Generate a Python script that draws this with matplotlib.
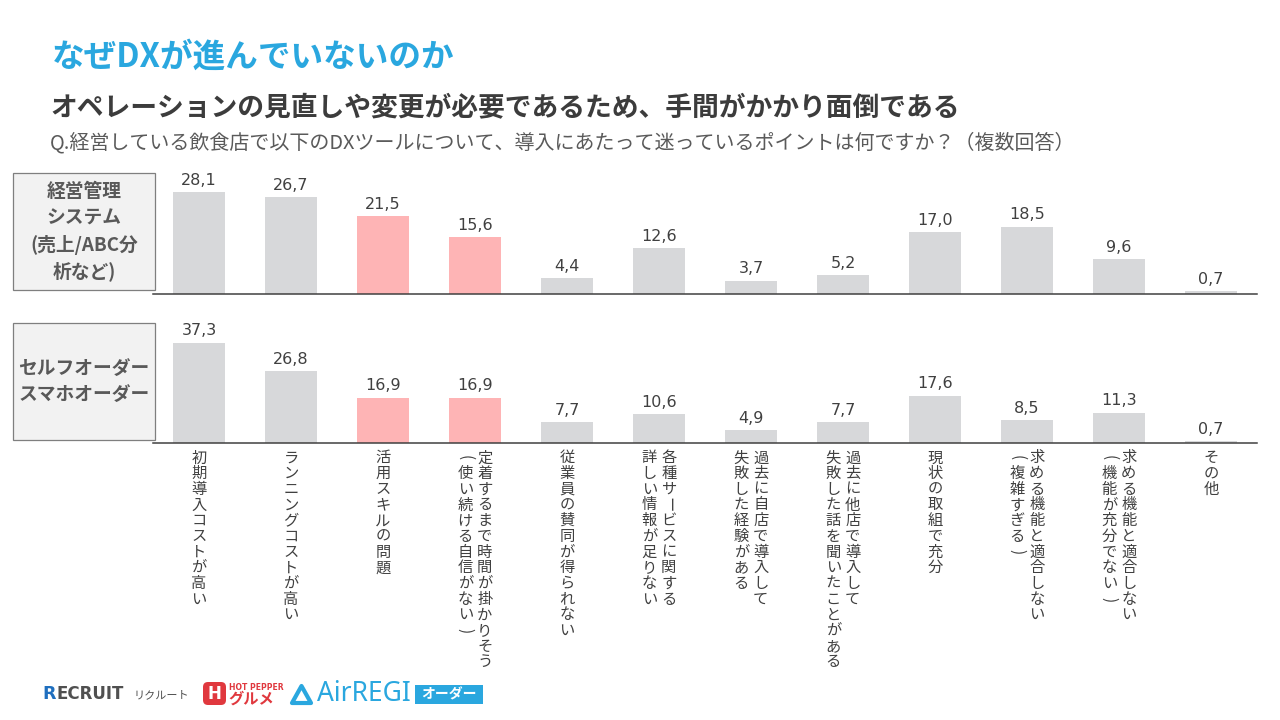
import matplotlib
matplotlib.use('Agg')
import matplotlib.pyplot as plt
import matplotlib.transforms as mtransforms
from matplotlib.patches import Rectangle, FancyBboxPatch, Polygon

plt.rcParams['font.family'] = ['Noto Sans CJK JP', 'DejaVu Sans']

# データ
title = 'なぜDXが進んでいないのか'
subtitle = 'オペレーションの見直しや変更が必要であるため、手間がかかり面倒である'
question = 'Q.経営している飲食店で以下のDXツールについて、導入にあたって迷っているポイントは何ですか？（複数回答）'

categories = [
    '初期導入コストが高い',
    'ランニングコストが高い',
    '活用スキルの問題',
    '定着するまで時間が掛かりそう\n(使い続ける自信がない)',
    '従業員の賛同が得られない',
    '各種サービスに関する\n詳しい情報が足りない',
    '過去に自店で導入して\n失敗した経験がある',
    '過去に他店で導入して\n失敗した話を聞いたことがある',
    '現状の取組で充分',
    '求める機能と適合しない\n(複雑すぎる)',
    '求める機能と適合しない\n(機能が充分でない)',
    'その他',
]
row_names = ['経営管理\nシステム\n(売上/ABC分\n析など)', 'セルフオーダー\nスマホオーダー']
vals_mgmt = [28.1, 26.7, 21.5, 15.6, 4.4, 12.6, 3.7, 5.2, 17.0, 18.5, 9.6, 0.7]
vals_order = [37.3, 26.8, 16.9, 16.9, 7.7, 10.6, 4.9, 7.7, 17.6, 8.5, 11.3, 0.7]
highlight = [2, 3]

GRAY = '#d7d8da'
PINK = '#feb4b5'
TXT = '#404040'

fig = plt.figure(figsize=(12.8, 7.2), dpi=100)
W, H = 1280, 720

# 全体を覆うピクセル座標の軸 (上から下へ y)
ov = fig.add_axes([0, 0, 1, 1])
ov.set_xlim(0, W)
ov.set_ylim(H, 0)
ov.axis('off')

ov.text(52, 57, title, fontsize=23.5, weight='bold', color='#2aa7df', va='center')
ov.text(50, 107, subtitle, fontsize=19.3, weight='bold', color='#3c3c3c', va='center')
ov.text(50, 143, question, fontsize=14.4, color='#5a5a5a', va='center')


def panel(top, bottom, vals, ppu):
    ax = fig.add_axes([153 / W, 1 - bottom / H, 1104 / W, (bottom - top) / H])
    x = list(range(len(vals)))
    cols = [PINK if i in highlight else GRAY for i in x]
    ax.bar(x, vals, width=0.555, color=cols)
    ax.set_xlim(-0.5, len(vals) - 0.5)
    ax.set_ylim(0, (bottom - top) / ppu)
    for s in ['top', 'left', 'right']:
        ax.spines[s].set_visible(False)
    ax.spines['bottom'].set_color('#404040')
    ax.spines['bottom'].set_linewidth(1.1)
    ax.set_xticks([])
    ax.set_yticks([])
    ax.patch.set_alpha(0)
    for i, v in enumerate(vals):
        ax.annotate(f'{v:.1f}'.replace('.', ','), (i, v), xytext=(0, 3),
                    textcoords='offset points', ha='center', va='bottom',
                    fontsize=11.5, color=TXT, family='DejaVu Sans')
    return ax


ax1 = panel(170, 294, vals_mgmt, 3.64)
ax2 = panel(320, 443, vals_order, 2.69)

# 行ラベルの箱
for name, (y0, y1) in zip(row_names, [(173, 290), (323, 440)]):
    ov.add_patch(Rectangle((13, y0), 142, y1 - y0, fc='#f2f2f2', ec='#7f7f7f', lw=0.9))
    lines = name.split('\n')
    cy = (y0 + y1) / 2
    for k, ln in enumerate(lines):
        ov.text(84, cy + (k - (len(lines) - 1) / 2) * 26.7, ln, ha='center', va='center',
                fontsize=13.5, weight='bold', color='#595959')

# 縦書きのカテゴリラベル
base = mtransforms.blended_transform_factory(ax2.transData, ov.transData)
rot_chars = 'ー()（）'
for i, lab in enumerate(categories):
    cols = lab.split('\n')
    n = len(cols)
    for j, col in enumerate(cols):
        dx = ((n - 1) / 2 - j) * 19.5
        tr = base + mtransforms.ScaledTranslation(dx / 100, 0, fig.dpi_scale_trans)
        for k, ch in enumerate(col):
            ov.text(i, 450 + (k + 0.5) * 15.7, ch, transform=tr, ha='center', va='center',
                    fontsize=11, color=TXT, rotation=-90 if ch in rot_chars else 0)

# ロゴ
ov.text(42, 694, 'R', fontsize=12.5, weight='bold', color='#1f6fbf', va='center', family='DejaVu Sans')
ov.text(56, 694, 'ECRUIT', fontsize=12, weight='bold', color='#505050', va='center', family='DejaVu Sans')
ov.text(134, 695, 'リクルート', fontsize=8, color='#505050', va='center')

ov.add_patch(FancyBboxPatch((203, 682), 23, 23, boxstyle='round,pad=0,rounding_size=5',
                            fc='#e0383e', ec='none'))
ov.text(214.5, 694, 'H', fontsize=12, weight='bold', color='white', ha='center', va='center',
        family='DejaVu Sans')
ov.text(229, 687, 'HOT PEPPER', fontsize=5.5, weight='bold', color='#e0383e', va='center',
        family='DejaVu Sans')
ov.text(228, 699, 'グルメ', fontsize=11, weight='bold', color='#e0383e', va='center')

ov.add_patch(Polygon([(292, 703), (301.5, 686), (311, 703)], closed=True, fill=False,
                     ec='#2aa7df', lw=3, joinstyle='round'))
ov.text(317, 694, 'AirREGI', fontsize=19, color='#2aa7df', va='center', family='Noto Sans')
ov.add_patch(Rectangle((415, 685), 68, 19, fc='#2aa7df', ec='none'))
ov.text(449, 694.5, 'オーダー', fontsize=10, weight='bold', color='white', ha='center', va='center')

fig.savefig('out.png', dpi=100)
